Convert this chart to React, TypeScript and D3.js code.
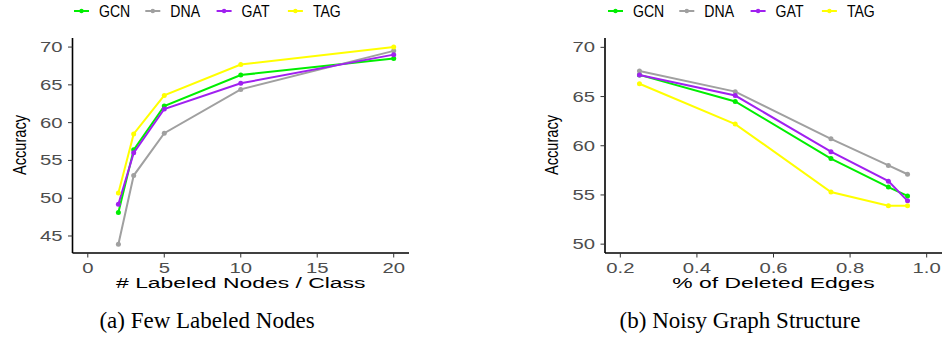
import React from "react";
import * as d3 from "d3";

// panel (a): few labeled nodes
const labeledX = [2, 3, 5, 10, 20];
const gcnA = [48.1, 56.4, 62.2, 66.3, 68.5];
const dnaA = [43.9, 53.0, 58.6, 64.4, 69.5];
const gatA = [49.2, 56.0, 61.8, 65.2, 69.0];
const tagA = [50.7, 58.5, 63.6, 67.7, 70.0];
const ticksXA = [0, 5, 10, 15, 20];
const ticksYA = [45, 50, 55, 60, 65, 70];

// panel (b): noisy graph structure
const deletedX = [0.25, 0.5, 0.75, 0.9, 0.95];
const gcnB = [67.2, 64.5, 58.7, 55.8, 54.9];
const dnaB = [67.6, 65.5, 60.7, 58.0, 57.1];
const gatB = [67.2, 65.1, 59.4, 56.4, 54.4];
const tagB = [66.3, 62.2, 55.3, 53.9, 53.9];
const ticksXB = [0.2, 0.4, 0.6, 0.8, 1.0];
const ticksYB = [50, 55, 60, 65, 70];

const models = ["GCN", "DNA", "GAT", "TAG"];
const colors = ["#00EE00", "#A0A0A0", "#A020F0", "#FFFF00"];

const SANS = "'Liberation Sans', Arial, Helvetica, sans-serif";
const SERIF = "'Liberation Serif', 'Times New Roman', serif";

function Panel({ xs, series, xDomain, yDomain, left, right, xTicks, yTicks, fmt, xTitle, caption, captionX, legendX }) {
  const top = 38, bottom = 253;
  const x = d3.scaleLinear().domain(xDomain).range([left, right]);
  const y = d3.scaleLinear().domain(yDomain).range([bottom, top]);
  const line = d3.line().x((d) => x(d[0])).y((d) => y(d[1]));
  const mid = (left + right) / 2;

  return (
    <g>
      {/* legend */}
      {models.map((m, i) => {
        const lx = legendX + i * 71.3;
        return (
          <g key={m}>
            <line x1={lx} x2={lx + 15} y1={11} y2={11} stroke={colors[i]} strokeWidth={2} />
            <circle cx={lx + 7.5} cy={11} r={2.2} fill={colors[i]} />
            <text transform={`translate(${lx + 25},17) scale(0.88,1)`} fontFamily={SANS} fontSize={16} fill="#000">{m}</text>
          </g>
        );
      })}

      {/* axes */}
      <line x1={left} x2={left} y1={top} y2={bottom} stroke="#000" strokeWidth={1.6} />
      <line x1={left} x2={right} y1={bottom} y2={bottom} stroke="#000" strokeWidth={1.6} />
      {yTicks.map((t) => (
        <g key={"y" + t}>
          <line x1={left - 4.5} x2={left} y1={y(t)} y2={y(t)} stroke="#333" strokeWidth={1} />
          <text transform={`translate(${left - 10},${y(t) + 5}) scale(1.45,1)`} textAnchor="end" fontFamily={SANS} fontSize={14} fill="#4D4D4D">{t}</text>
        </g>
      ))}
      {xTicks.map((t) => (
        <g key={"x" + t}>
          <line x1={x(t)} x2={x(t)} y1={bottom} y2={bottom + 4.5} stroke="#333" strokeWidth={1} />
          <text transform={`translate(${x(t)},273) scale(1.45,1)`} textAnchor="middle" fontFamily={SANS} fontSize={14} fill="#4D4D4D">{fmt(t)}</text>
        </g>
      ))}
      <text transform={`translate(${mid},288) scale(1.58,1)`} textAnchor="middle" fontFamily={SANS} fontSize={14.5} fill="#000">{xTitle}</text>
      <text transform={`translate(${left - 47},145) rotate(-90) scale(0.77,1)`} textAnchor="middle" fontFamily={SANS} fontSize={19} fill="#000">Accuracy</text>

      {/* series */}
      {series.map((vals, i) => {
        const pts = xs.map((v, j) => [v, vals[j]]);
        return (
          <g key={models[i]}>
            <path d={line(pts)} fill="none" stroke={colors[i]} strokeWidth={2} />
            {pts.map((p, j) => (
              <circle key={j} cx={x(p[0])} cy={y(p[1])} r={2.5} fill={colors[i]} />
            ))}
          </g>
        );
      })}

      <text x={captionX} y={328} textAnchor="middle" fontFamily={SERIF} fontSize={23} fill="#000">{caption}</text>
    </g>
  );
}

export default function App() {
  return (
    <svg width={942} height={341} style={{ position: "absolute", left: 0, top: 0, background: "#fff" }}>
      <Panel
        xs={labeledX}
        series={[gcnA, dnaA, gatA, tagA]}
        xDomain={[-1, 21]}
        yDomain={[42.75, 71.2]}
        left={72.5}
        right={409}
        xTicks={ticksXA}
        yTicks={ticksYA}
        fmt={(t) => String(t)}
        xTitle="# Labeled Nodes / Class"
        caption="(a) Few Labeled Nodes"
        captionX={207}
        legendX={74}
      />
      <Panel
        xs={deletedX}
        series={[gcnB, dnaB, gatB, tagB]}
        xDomain={[0.16, 1.04]}
        yDomain={[49.1, 70.95]}
        left={605}
        right={942}
        xTicks={ticksXB}
        yTicks={ticksYB}
        fmt={(t) => d3.format(".1f")(t)}
        xTitle="% of Deleted Edges"
        caption="(b) Noisy Graph Structure"
        captionX={740}
        legendX={608}
      />
    </svg>
  );
}
